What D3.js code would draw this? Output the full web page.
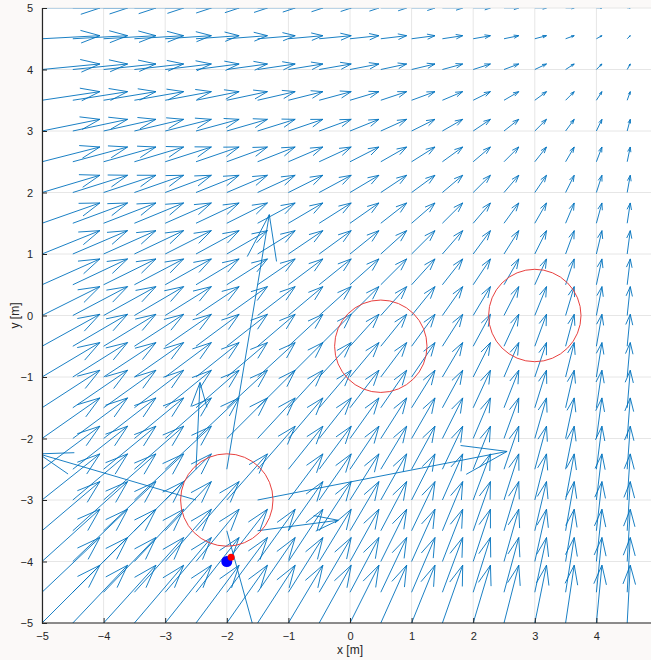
<!DOCTYPE html>
<html>
<head>
<meta charset="utf-8">
<script src="https://cdn.jsdelivr.net/npm/d3@7"></script>
<style>
  body { margin:0; background:#fbf9f8; }
  .canvas { width:651px; height:660px; }
  text { font-family:"Liberation Sans", Arial, sans-serif; fill:#262626; }
</style>
</head>
<body>
<div class="canvas" id="canvas"></div>
<script>
// grid positions of the quiver
var xGrid = [-5,-4.5,-4,-3.5,-3,-2.5,-2,-1.5,-1,-0.5,0,0.5,1,1.5,2,2.5,3,3.5,4,4.5];
var yGrid = [-5,-4.5,-4,-3.5,-3,-2.5,-2,-1.5,-1,-0.5,0,0.5,1,1.5,2,2.5,3,3.5,4,4.5,5];

// x component read per column, y component read per row
var colU = [0.94,0.89,0.85,0.80,0.75,0.70,0.66,0.61,0.56,0.52,0.47,0.42,0.38,0.33,0.28,0.24,0.19,0.14,0.09,0.05];
var rowV = [0.94,0.89,0.85,0.80,0.75,0.70,0.66,0.61,0.56,0.52,0.47,0.42,0.38,0.33,0.28,0.24,0.19,0.14,0.09,0.05,0];

// arrows that break the pattern (inside the first obstacle)
var oddX = [-2,  -1.5, -2.5,  -2.5,  -1.5, -2];
var oddY = [-2.5,-3,   -3,    -2.5,  -3.5, -3.5];
var oddU = [0.69, 4.05,-2.55,  0.065, 1.31, 0.55];
var oddV = [4.14, 0.79, 0.75,  1.41,  0.17,-2.0];

// obstacles
var obsX = [-2, 0.5, 3];
var obsY = [-3, -0.5, 0];
var obsR = [0.75, 0.75, 0.75];

// start / robot
var startPt = [-2, -4];
var robotPt = [-1.93, -3.93];

var ticks = [-5,-4,-3,-2,-1,0,1,2,3,4,5];

var m = {t:8, l:42, b:37};
var outerWidth = 651, outerHeight = 660;
var h = outerHeight - m.t - m.b;

var svg = d3.select('.canvas')
    .append('svg')
    .attr('width', outerWidth)
    .attr('height', outerHeight);

var scaleX = d3.scaleLinear().domain([-5,5]).range([m.l, m.l + 616]);
var scaleY = d3.scaleLinear().domain([-5,5]).range([m.t + h, m.t]);

svg.append('rect')
    .attr('x', m.l).attr('y', m.t)
    .attr('width', outerWidth - m.l).attr('height', h)
    .style('fill', '#fff');

// clip just below the top edge so the y=5 shafts stay hidden, as in the figure
svg.append('clipPath').attr('id','clip')
    .append('rect')
    .attr('x', m.l).attr('y', m.t + 0.6)
    .attr('width', outerWidth - m.l).attr('height', h - 0.6);

// grid
var grid = svg.append('g').attr('class','grid');
grid.selectAll('.gx').data(ticks).enter().append('line')
    .attr('x1', function(d){return scaleX(d);})
    .attr('x2', function(d){return scaleX(d);})
    .attr('y1', m.t).attr('y2', m.t + h)
    .style('stroke', '#e6e6e6').style('stroke-width', 1);
grid.selectAll('.gy').data(ticks).enter().append('line')
    .attr('y1', function(d){return scaleY(d);})
    .attr('y2', function(d){return scaleY(d);})
    .attr('x1', m.l).attr('x2', outerWidth)
    .style('stroke', '#e6e6e6').style('stroke-width', 1);

// build arrows
var arrows = [];
yGrid.forEach(function(y, j){
    xGrid.forEach(function(x, i){
        arrows.push({x:x, y:y, u:colU[i], v:rowV[j]});
    });
});
oddX.forEach(function(x, k){
    arrows.forEach(function(a){
        if (a.x === x && a.y === oddY[k]) { a.u = oddU[k]; a.v = oddV[k]; }
    });
});

function arrowPath(d){
    var x0 = scaleX(d.x), y0 = scaleY(d.y);
    var x1 = scaleX(d.x + d.u), y1 = scaleY(d.y + d.v);
    var dx = x1 - x0, dy = y1 - y0;
    var L = Math.sqrt(dx*dx + dy*dy);
    if (L < 0.01) return '';
    var ux = dx / L, uy = dy / L;
    var hl = Math.min(0.33 * L, 14 + 0.12 * L);
    var hw = 0.33 * hl;
    var bx = x1 - hl * ux, by = y1 - hl * uy;
    return 'M' + x0 + ',' + y0 + 'L' + x1 + ',' + y1 +
        'M' + (bx - hw * uy) + ',' + (by + hw * ux) + 'L' + x1 + ',' + y1 +
        'L' + (bx + hw * uy) + ',' + (by - hw * ux);
}

var plot = svg.append('g').attr('clip-path', 'url(#clip)');

plot.selectAll('.arrow')
    .data(arrows)
    .enter()
    .append('path')
    .attr('class', 'arrow')
    .attr('d', arrowPath)
    .style('fill', 'none')
    .style('stroke', '#0072bd')
    .style('stroke-width', 0.9);

plot.selectAll('.obstacle')
    .data(obsX)
    .enter()
    .append('circle')
    .attr('class', 'obstacle')
    .attr('cx', function(d){return scaleX(d);})
    .attr('cy', function(d, i){return scaleY(obsY[i]);})
    .attr('r', function(d, i){return scaleX(obsR[i]) - scaleX(0);})
    .style('fill', 'none')
    .style('stroke', '#e8413f')
    .style('stroke-width', 1);

plot.append('circle')
    .attr('cx', scaleX(startPt[0])).attr('cy', scaleY(startPt[1]))
    .attr('r', 5.5).style('fill', '#0000ff');
plot.append('circle')
    .attr('cx', scaleX(robotPt[0])).attr('cy', scaleY(robotPt[1]))
    .attr('r', 3.5).style('fill', '#ff0000');

// axes
var axisX = d3.axisBottom().scale(scaleX).tickValues(ticks.slice(0,10)).tickSize(-5).tickPadding(9);
var axisY = d3.axisLeft().scale(scaleY).tickValues(ticks).tickSize(-5).tickPadding(9);

var gx = svg.append('g').attr('class','axis axis-x')
    .attr('transform','translate(0,' + (m.t + h) + ')')
    .call(axisX);
var gy = svg.append('g').attr('class','axis axis-y')
    .attr('transform','translate(' + m.l + ',0)')
    .call(axisY);

[gx, gy].forEach(function(g){
    g.select('.domain').style('stroke', '#262626').style('stroke-width', 1.2);
    g.selectAll('.tick line').style('stroke', '#262626');
    g.selectAll('.tick text').style('font-size', '11px').style('fill', '#262626')
        .style('font-family', '"Liberation Sans", Arial, sans-serif');
});
gx.select('.domain').attr('d', 'M' + m.l + ',0H' + outerWidth);

svg.append('text')
    .attr('x', scaleX(0)).attr('y', 654)
    .attr('text-anchor', 'middle')
    .style('font-size', '12px')
    .text('x [m]');

svg.append('text')
    .attr('transform', 'translate(19,' + scaleY(0) + ') rotate(-90)')
    .attr('text-anchor', 'middle')
    .style('font-size', '12px')
    .text('y [m]');
</script>
</body>
</html>
